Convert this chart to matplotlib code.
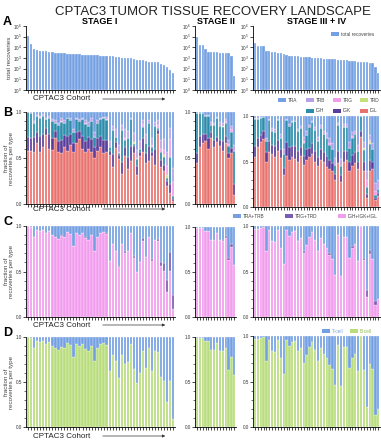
import numpy as np
import matplotlib.pyplot as plt
from matplotlib.patches import Rectangle, FancyArrowPatch
from matplotlib.ticker import LogFormatterMathtext, MultipleLocator, NullLocator

plt.rcParams['font.family'] = ['Liberation Sans', 'DejaVu Sans']

# ---- data ----
stages = ['STAGE I', 'STAGE II', 'STAGE III + IV']

total_I = [110000, 19000, 7000, 5500, 4500, 4300, 4200, 4000, 3800, 3100, 3000, 2900, 2800,
           2600, 2500, 2400, 2300, 2200, 2100, 2000, 1900, 1850, 1800, 1750, 1700, 1650, 1600,
           1500, 1400, 1300, 1200, 1100, 1000, 950, 900, 850, 700, 650, 600, 550, 450, 420,
           400, 380, 250, 200, 130, 80, 40]
total_II = [95000, 17000, 16000, 7500, 3800, 3800, 3700, 3300, 3100, 3000, 2900, 2800, 1400, 20]
total_III = [23000, 13000, 12500, 12500, 4500, 4200, 3500, 3300, 3100, 2900, 2500, 2000, 1700,
             1600, 1500, 1400, 1300, 1300, 1250, 1200, 1100, 1000, 950, 900, 850, 800, 800, 780,
             750, 720, 700, 650, 600, 550, 500, 470, 450, 420, 400, 380, 350, 320, 150, 40]

# B-cell (IGH+IGK+IGL) fraction per sample
ig_I = [1.00, 0.99, 0.88, 0.96, 0.94, 0.96, 0.92, 0.94, 0.90, 0.88, 0.86, 0.89, 0.88, 0.93,
        0.91, 0.78, 0.92, 0.90, 0.92, 0.87, 0.85, 0.90, 0.73, 0.88, 0.92, 0.93, 0.91, 0.62,
        0.80, 0.73, 0.55, 0.80, 0.70, 0.72, 0.92, 0.65, 0.49, 0.60, 0.84, 0.66, 0.88, 0.62,
        0.85, 0.83, 0.56, 0.51, 0.28, 0.51, 0.09]
ig_II = [0.99, 0.99, 0.99, 0.96, 0.96, 0.86, 0.86, 0.93, 0.85, 0.84, 0.88, 0.63, 0.78, 0.58]
ig_III = [0.97, 0.97, 0.98, 0.99, 0.72, 0.96, 0.84, 0.82, 0.96, 0.76, 0.58, 0.96, 0.89, 0.93,
          0.94, 0.83, 0.87, 0.70, 0.79, 0.88, 0.93, 0.85, 0.72, 0.87, 0.80, 0.76, 0.68, 0.64,
          0.46, 0.90, 0.45, 0.88, 0.88, 0.65, 0.76, 0.80, 0.62, 1.00, 0.63, 0.22, 0.69, 0.64,
          0.13, 0.20]

igl_I = [0.58, 0.58, 0.57, 0.66, 0.56, 0.62, 0.75, 0.60, 0.59, 0.72, 0.57, 0.55, 0.62, 0.58,
         0.64, 0.56, 0.66, 0.71, 0.60, 0.56, 0.60, 0.57, 0.50, 0.58, 0.62, 0.55, 0.57, 0.53,
         0.40, 0.61, 0.49, 0.33, 0.52, 0.38, 0.47, 0.55, 0.31, 0.52, 0.57, 0.45, 0.47, 0.52,
         0.42, 0.76, 0.40, 0.36, 0.20, 0.12, 0.03]
igl_II = [0.45, 0.62, 0.66, 0.68, 0.60, 0.72, 0.62, 0.67, 0.63, 0.58, 0.66, 0.50, 0.55, 0.10]
igl_III = [0.55, 0.66, 0.71, 0.75, 0.50, 0.60, 0.58, 0.55, 0.62, 0.54, 0.35, 0.56, 0.52, 0.55,
           0.53, 0.50, 0.56, 0.46, 0.52, 0.55, 0.58, 0.50, 0.45, 0.52, 0.50, 0.44, 0.42, 0.40,
           0.30, 0.48, 0.28, 0.50, 0.52, 0.40, 0.45, 0.48, 0.42, 0.77, 0.40, 0.10, 0.40, 0.42,
           0.08, 0.12]

igk_I = [0.15, 0.14, 0.16, 0.12, 0.18, 0.14, 0.08, 0.16, 0.13, 0.07, 0.12, 0.15, 0.13, 0.16,
         0.12, 0.10, 0.12, 0.08, 0.14, 0.12, 0.13, 0.14, 0.12, 0.14, 0.12, 0.15, 0.13, 0.05,
         0.14, 0.06, 0.04, 0.13, 0.10, 0.13, 0.16, 0.08, 0.10, 0.04, 0.15, 0.10, 0.16, 0.05,
         0.18, 0.04, 0.08, 0.06, 0.05, 0.10, 0.02]
igk_II = [0.10, 0.12, 0.10, 0.08, 0.12, 0.06, 0.08, 0.06, 0.07, 0.10, 0.08, 0.05, 0.06, 0.12]
igk_III = [0.12, 0.10, 0.08, 0.08, 0.10, 0.12, 0.10, 0.12, 0.12, 0.10, 0.08, 0.15, 0.14, 0.12,
           0.14, 0.12, 0.10, 0.10, 0.12, 0.10, 0.12, 0.12, 0.10, 0.12, 0.10, 0.12, 0.10, 0.08,
           0.06, 0.14, 0.07, 0.12, 0.10, 0.10, 0.12, 0.12, 0.08, 0.06, 0.10, 0.04, 0.12, 0.08,
           0.02, 0.03]

trb_I = [0.00, 0.01, 0.02, 0.01, 0.01, 0.02, 0.01, 0.02, 0.02, 0.03, 0.02, 0.03, 0.03, 0.01,
         0.02, 0.03, 0.02, 0.02, 0.02, 0.03, 0.04, 0.03, 0.05, 0.03, 0.02, 0.02, 0.03, 0.06,
         0.05, 0.08, 0.08, 0.06, 0.09, 0.07, 0.02, 0.10, 0.09, 0.08, 0.04, 0.10, 0.03, 0.08,
         0.04, 0.05, 0.10, 0.12, 0.15, 0.12, 0.15]
trb_II = [0, 0, 0, 0.01, 0.01, 0.03, 0.02, 0.02, 0.04, 0.03, 0.02, 0.05, 0.04, 0.06]
trb_III = [0.01, 0.01, 0.01, 0, 0.04, 0.01, 0.03, 0.04, 0.01, 0.04, 0.06, 0.01, 0.02, 0.02,
           0.01, 0.03, 0.02, 0.05, 0.04, 0.02, 0.02, 0.03, 0.05, 0.03, 0.04, 0.05, 0.06, 0.06,
           0.08, 0.02, 0.08, 0.03, 0.03, 0.06, 0.04, 0.04, 0.06, 0, 0.06, 0.10, 0.05, 0.06,
           0.08, 0.10]

trg_I = [0, 0, 0, 0, 0.01, 0, 0, 0, 0, 0, 0, 0.01, 0, 0, 0, 0, 0, 0, 0, 0.01, 0, 0, 0, 0, 0,
         0, 0.01, 0, 0, 0, 0.01, 0, 0.02, 0, 0, 0, 0.01, 0, 0.03, 0, 0, 0.02, 0, 0.03, 0.04,
         0.06, 0.10, 0.20, 0.15]
trg_II = [0, 0, 0, 0, 0, 0, 0, 0, 0, 0, 0.02, 0.02, 0.03, 0]
trg_III = [0, 0, 0, 0, 0, 0, 0, 0, 0, 0, 0, 0, 0, 0, 0, 0, 0, 0.02, 0, 0, 0, 0, 0, 0, 0, 0,
           0.02, 0, 0, 0, 0, 0, 0, 0, 0.02, 0, 0, 0, 0, 0.08, 0.03, 0, 0.05, 0]

trd_I = [0] * 35 + [0.02] + [0] * 9 + [0.02, 0.03, 0, 0]
trd_II = [0] * 9 + [0.01] + [0] * 4
trd_III = [0] * 38 + [0.02, 0, 0.02, 0, 0, 0]

# ---- colours ----
c_blue = '#74A0E2'
c_trb = '#B7A0E6'
c_trg = '#F19CEB'
c_trd = '#C3E27B'
c_igh = '#2B8CAB'
c_igk = '#5A3D9A'
c_igl = '#E8736E'
c_gd = '#7C5CB0'
c_igall = '#F29CEE'
c_bcell = '#B9DD7D'

W, H = 381, 440
fig = plt.figure(figsize=(W / 100, H / 100), dpi=100)


def px_axes(x0, y0, x1, y1):
    return fig.add_axes([x0 / W, 1 - y1 / H, (x1 - x0) / W, (y1 - y0) / H])


def ftext(x, y, s, **kw):
    fig.text(x / W, 1 - y / H, s, **kw)


def legend_item(x, y, color, label, tcolor='#444444'):
    fig.add_artist(Rectangle((x / W, 1 - (y + 2) / H), 8 / W, 4 / H,
                             transform=fig.transFigure, facecolor=color, edgecolor='none'))
    ftext(x + 10, y, label, fontsize=3.4, va='center', ha='left', color=tcolor)


def cohort_label(y):
    ftext(33, y, 'CPTAC3 Cohort', fontsize=5.8, va='center', ha='left', color='#222222')
    fig.add_artist(FancyArrowPatch((100 / W, 1 - y / H), (168 / W, 1 - y / H),
                                   transform=fig.transFigure, arrowstyle='-|>',
                                   mutation_scale=4, lw=0.5, color='#333333'))


def style(ax, n):
    ax.spines[['top', 'right']].set_visible(False)
    ax.spines[['left', 'bottom']].set_linewidth(0.6)
    ax.set_xlim(-0.7, n - 0.4)
    ax.set_xticks(np.arange(n))
    ax.set_xticklabels([])
    ax.tick_params(axis='x', length=2, width=0.5)
    ax.tick_params(axis='y', length=2, width=0.5, labelsize=3.3, pad=1, labelcolor='#333333')
    ax.tick_params(axis='y', which='minor', length=1.2, width=0.4)


def stack(ax, parts):
    n = len(parts[0][0])
    x = np.arange(n)
    bottom = np.zeros(n)
    for vals, col in parts:
        v = np.asarray(vals, dtype=float)
        ax.bar(x, v, bottom=bottom, width=0.8, color=col, edgecolor='white', linewidth=0.2)
        bottom += v


def frac_axis(ax, n):
    style(ax, n)
    ax.set_ylim(0, 1.0)
    ax.set_yticks([0, 0.5, 1.0])
    ax.set_yticklabels(['0.0', '0.5', '1.0'])
    ax.yaxis.set_minor_locator(MultipleLocator(0.1))


totals = [total_I, total_II, total_III]
igs = [ig_I, ig_II, ig_III]
igls = [igl_I, igl_II, igl_III]
igks = [igk_I, igk_II, igk_III]
trbs = [trb_I, trb_II, trb_III]
trgs = [trg_I, trg_II, trg_III]
trds = [trd_I, trd_II, trd_III]

xs = [(26, 175), (195, 236), (253, 380)]
rowA = [(26, 90), (26, 90), (26, 90)]
rowB = [(112, 204), (112, 204), (116, 207)]
rowC = [(226, 317), (227, 317), (226, 317)]
rowD = [(337, 427), (337, 427), (336, 427)]

for i in range(3):
    n = len(totals[i])
    ig = np.array(igs[i])
    igl = np.array(igls[i])
    igk = np.array(igks[i])
    igh = np.clip(ig - igl - igk, 0, None)
    tcell = 1 - ig
    trb = np.array(trbs[i])
    trg = np.array(trgs[i])
    trd = np.array(trds[i])
    tra = np.clip(tcell - trb - trg - trd, 0, None)

    # A: totals on log scale
    ax = px_axes(xs[i][0], rowA[i][0], xs[i][1], rowA[i][1])
    ax.bar(np.arange(n), totals[i], bottom=1, width=0.8, color=c_blue,
           edgecolor='white', linewidth=0.2)
    ax.set_yscale('log')
    ax.set_ylim(1, 1e6)
    style(ax, n)
    ax.set_yticks([10 ** k for k in range(7)])
    ax.yaxis.set_major_formatter(LogFormatterMathtext())
    ax.yaxis.set_minor_locator(NullLocator())

    # B: individual chains
    ax = px_axes(xs[i][0], rowB[i][0], xs[i][1], rowB[i][1])
    stack(ax, [(igl, c_igl), (igk, c_igk), (igh, c_igh), (trd, c_trd),
               (trg, c_trg), (trb, c_trb), (tra, c_blue)])
    frac_axis(ax, n)

    # C: grouped chains
    ax = px_axes(xs[i][0], rowC[i][0], xs[i][1], rowC[i][1])
    stack(ax, [(ig, c_igall), (trg + trd, c_gd), (tra + trb, c_blue)])
    frac_axis(ax, n)

    # D: T vs B cell
    ax = px_axes(xs[i][0], rowD[i][0], xs[i][1], rowD[i][1])
    stack(ax, [(ig, c_bcell), (tcell, c_blue)])
    frac_axis(ax, n)

# titles and labels
ftext(213, 12, 'CPTAC3 TUMOR TISSUE RECOVERY LANDSCAPE', fontsize=9.5, ha='center',
      va='center', color='#222222')
for s, cx in zip(stages, [100, 216, 317]):
    ftext(cx, 22, s, fontsize=6.5, fontweight='bold', ha='center', va='center')
for s, y in zip('ABCD', [22, 113, 222, 333]):
    ftext(3, y, s, fontsize=9, fontweight='bold', ha='left', va='center')

ftext(10, 58, 'total recoveries', fontsize=4.5, rotation=90, ha='center', va='center',
      color='#444444')
for y in [158, 271, 382]:
    ftext(9, y, 'fraction of\nrecoveries per type', fontsize=4.5, rotation=90, ha='center',
          va='center', color='#444444', linespacing=1.0)

for y in [99, 209, 325, 436]:
    cohort_label(y)

# legends
legend_item(331, 34, c_blue, 'total recoveries')
for x, c, s in zip([278, 306, 333, 360], [c_blue, c_trb, c_trg, c_trd], ['TRA', 'TRB', 'TRG', 'TRD']):
    legend_item(x, 100, c, s)
for x, c, s in zip([306, 333, 360], [c_igh, c_igk, c_igl], ['IGH', 'IGK', 'IGL']):
    legend_item(x, 111, c, s)
for x, c, s in zip([233, 285, 338], [c_blue, c_gd, c_igall], ['TRA+TRB', 'TRG+TRD', 'IGH+IGK+IGL']):
    legend_item(x, 216, c, s)
legend_item(322, 331, c_blue, 'T-cell', tcolor=c_blue)
legend_item(350, 331, c_bcell, 'B-cell', tcolor='#8DBB4A')

fig.savefig('out.png', dpi=100)
